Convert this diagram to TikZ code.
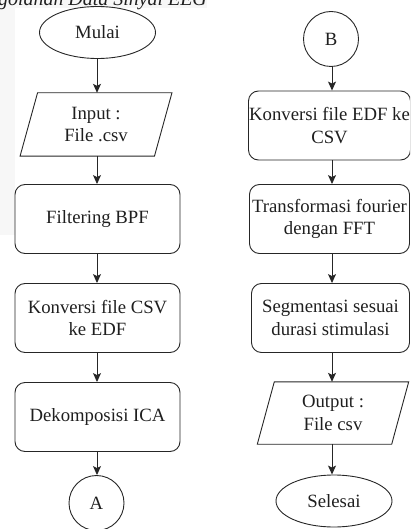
\documentclass[tikz,border=0pt]{standalone}
\usepackage{fontspec}
\setmainfont{Liberation Serif}
\usetikzlibrary{arrows.meta,shapes.geometric}

\begin{document}
\begin{tikzpicture}[x=1bp,y=-1bp,
  every node/.style={font=\fontsize{18.8}{22.5}\selectfont, text=black!88, align=center, inner sep=0pt},
  edge/.style={draw=black!85, line width=0.9bp},
  proc/.style={edge, rectangle, rounded corners=10bp, minimum width=165bp, minimum height=69bp},
  term/.style={edge, ellipse, minimum width=116bp, minimum height=52bp},
  conn/.style={edge, circle, minimum size=55bp},
  iobox/.style={rectangle, minimum width=134bp, minimum height=63bp},
  arr/.style={edge, -{Stealth[length=9bp,width=8bp,inset=2bp]}}
]
\useasboundingbox (0,0) rectangle (410,529);
\clip (0,0) rectangle (410,529);

% faint page tint on the left margin and the caption band
\fill[black!3] (0,0) rectangle (207,8);
\fill[black!3] (0,8) rectangle (15,235);

% caption line of the figure (upper part falls outside the page)
\node[font=\itshape\fontsize{20}{24}\selectfont, anchor=base east] (cap) at (207,6) {Pengolahan Data Sinyal EEG};

% column guides for the connectors
\coordinate (lc) at (97,0);
\coordinate (rc) at (332,0);

% left column
\node[term] (start) at (97.5,32.5) {Mulai};
\node[iobox] (in) at (96,124.5) {Input :\\File .csv};
\draw[edge] ([xshift=8.75bp]in.north west) -- ([xshift=8.75bp]in.north east)
  -- ([xshift=-8.75bp]in.south east) -- ([xshift=-8.75bp]in.south west) -- cycle;
\node[proc] (filt) at (97.5,219) {Filtering BPF};
\node[proc] (csvedf) at (97.5,318) {Konversi file CSV\\ke EDF};
\node[proc] (ica) at (97.5,417) {Dekomposisi ICA};
\node[conn] (A) at (96.5,503) {A};

% right column
\node[conn] (B) at (331,39) {B};
\node[proc, minimum width=162bp] (edfcsv) at (329.5,125.5) {Konversi file EDF ke\\CSV};
\node[proc, minimum width=160bp] (fft) at (329.5,219) {Transformasi fourier\\dengan FFT};
\node[proc, minimum width=158bp] (seg) at (330.5,318) {Segmentasi sesuai\\durasi stimulasi};
\node[iobox, minimum height=62bp] (out) at (333,413) {Output :\\File csv};
\draw[edge] ([xshift=8.5bp]out.north west) -- ([xshift=8.5bp]out.north east)
  -- ([xshift=-8.5bp]out.south east) -- ([xshift=-8.5bp]out.south west) -- cycle;
\node[term] (stop) at (334,501) {Selesai};

% connectors, left
\draw[arr] (start.south -| lc) -- (in.north -| lc);
\draw[arr] (in.south -| lc) -- (filt.north -| lc);
\draw[arr] (filt.south -| lc) -- (csvedf.north -| lc);
\draw[arr] (csvedf.south -| lc) -- (ica.north -| lc);
\draw[arr] (ica.south -| lc) -- (A.north -| lc);

% connectors, right
\draw[arr] (B.south -| rc) -- (edfcsv.north -| rc);
\draw[arr] (edfcsv.south -| rc) -- (fft.north -| rc);
\draw[arr] (fft.south -| rc) -- (seg.north -| rc);
\draw[arr] (seg.south -| rc) -- (out.north -| rc);
\draw[arr] (out.south -| rc) -- (stop.north -| rc);
\end{tikzpicture}
\end{document}
